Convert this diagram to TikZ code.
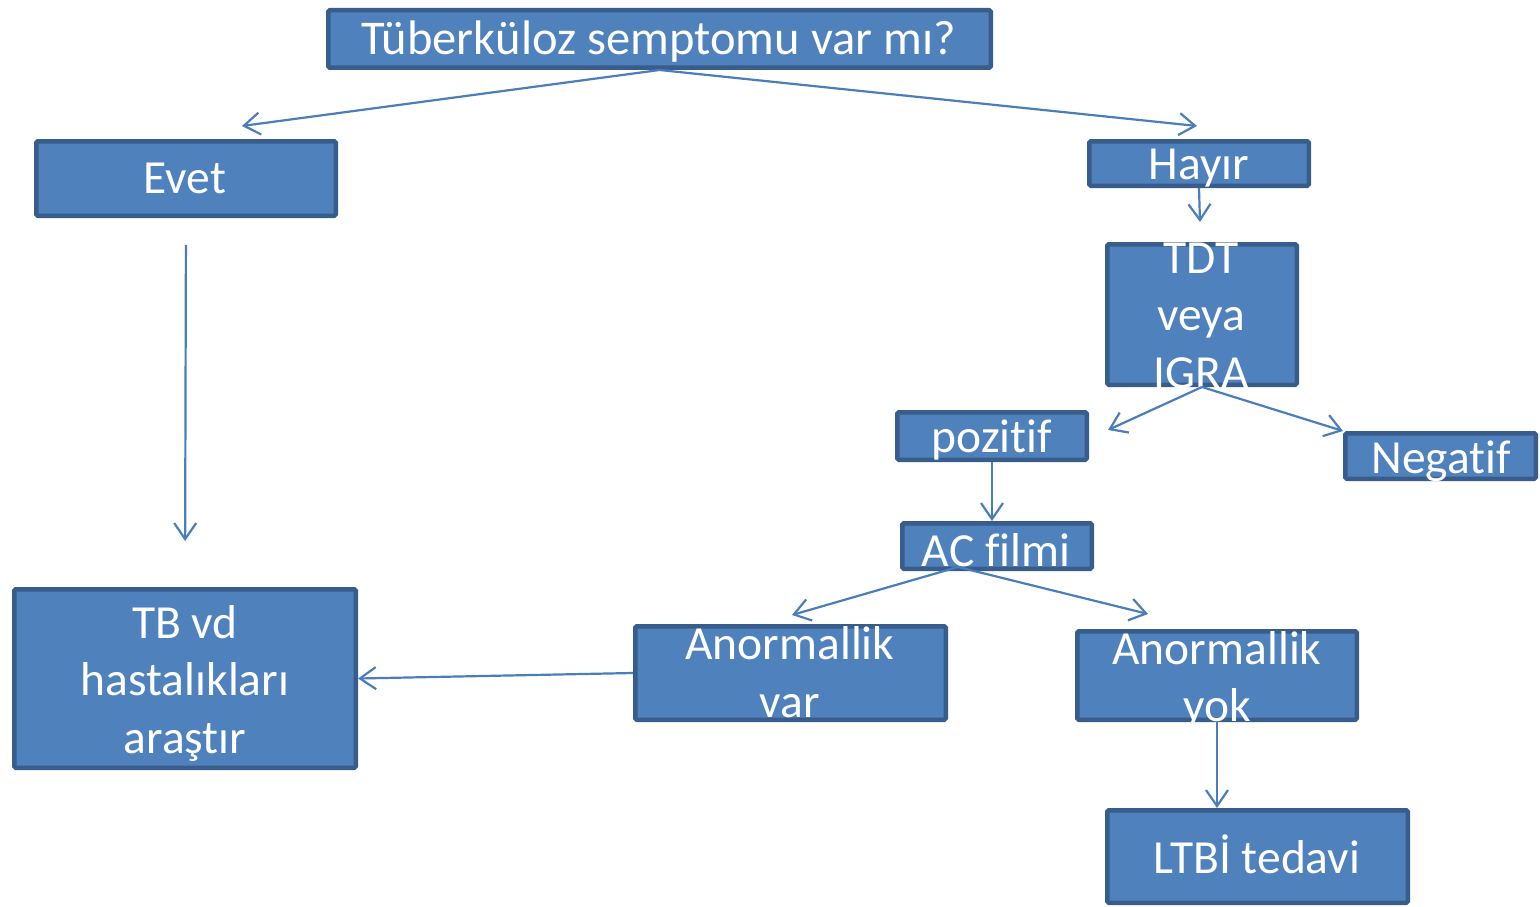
\documentclass[tikz,border=0pt]{standalone}
\usepackage{fontspec}
\setmainfont{Carlito}[Ligatures=NoCommon]
\usetikzlibrary{arrows.meta,calc}
\definecolor{boxfill}{HTML}{4F81BD}
\definecolor{boxdraw}{HTML}{385D8A}
\definecolor{arrcol}{HTML}{4A7EBB}
\begin{document}
\begin{tikzpicture}[x=1pt,y=-1pt,
  box/.style={draw=boxdraw, fill=boxfill, line width=4.5pt, rounded corners=1.5pt, inner sep=0pt},
  lbl/.style={text=white, font=\fontsize{47.5}{57.5}\selectfont, align=center, inner sep=0pt},
  conn/.style={draw=arrcol, line width=2.2pt, -{Straight Barb[length=16pt,width=22pt,line width=2.2pt]}}]
\useasboundingbox (0,0) rectangle (1540,907);
% boxes
\node[box, minimum width=662.5pt, minimum height=57.5pt] (q) at (659.5,39) {};
\node[box, minimum width=299.5pt, minimum height=74.5pt] (evet) at (186,178.5) {};
\node[box, minimum width=219.5pt, minimum height=44.5pt] (hayir) at (1199,163.5) {};
\node[box, minimum width=189.5pt, minimum height=140.5pt] (tdt) at (1202,314.5) {};
\node[box, minimum width=189.5pt, minimum height=47.5pt] (poz) at (992,436) {};
\node[box, minimum width=190.5pt, minimum height=45.5pt] (neg) at (1440.5,456) {};
\node[box, minimum width=189.5pt, minimum height=45.5pt] (ac) at (997,546) {};
\node[box, minimum width=341.5pt, minimum height=178.5pt] (tb) at (185,678.5) {};
\node[box, minimum width=310.5pt, minimum height=93.5pt] (var) at (790.5,673) {};
\node[box, minimum width=279.5pt, minimum height=88.5pt] (yok) at (1217,675.5) {};
\node[box, minimum width=300.5pt, minimum height=92.5pt] (ltbi) at (1257.5,856.5) {};
% texts
\node[lbl, anchor=base, font=\fontsize{48.5}{57.5}\selectfont] (qt) at (658.5,55) {Tüberküloz semptomu var mı?};
\node[lbl, anchor=base] (evett) at (185,193) {Evet};
\node[lbl, anchor=base] (hayirt) at (1199,179) {Hayır};
\node[lbl] (tdtt) at (1201,315.5) {TDT\\veya\\IGRA};
\node[lbl, anchor=base] (pozt) at (992,452) {pozitif};
\node[lbl, anchor=base] (negt) at (1441,473) {Negatif};
\node[lbl, anchor=base] (act) at (996,566) {AC f\kern0pt ilmi};
\node[lbl] (tbt) at (185,683) {TB vd\\hastalıkları\\araştır};
\node[lbl] (vart) at (790,672) {Anormallik\\var};
\node[lbl] (yokt) at (1217,680.5) {Anormallik\\yok};
\node[lbl, anchor=base] (ltbit) at (1257,873) {LTBİ tedavi};
% free ends
\coordinate (evetin) at (242,126);
\coordinate (hayirin) at (1197,126);
\coordinate (tdtin) at (1200,222);
\coordinate (pozin) at (1108,430);
\coordinate (acout) at (958,567);
\coordinate (varin) at (792,615);
\coordinate (yokin) at (1148,614);
% connectors
\draw[conn] (q.south) -- (evetin);
\draw[conn] (q.south) -- (hayirin);
\draw[conn] (hayir.south) -- (tdtin);
\draw[conn, shorten <=27pt, shorten >=46pt] (evet.south) -- (tb.north);
\draw[conn] (tdt.south) -- (pozin);
\draw[conn] (tdt.south) -- (neg.north west);
\draw[conn] (poz.south) -- (poz.south |- ac.north);
\draw[conn] (acout) -- (varin);
\draw[conn] (acout) -- (yokin);
\draw[conn] (var.west) -- (tb.east);
\draw[conn] (yok.south) -- (yok.south |- ltbi.north);
\end{tikzpicture}
\end{document}
